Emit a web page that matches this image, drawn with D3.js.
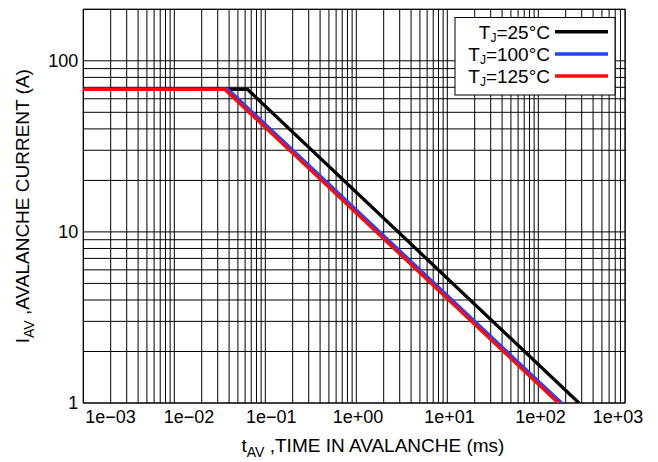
<!DOCTYPE html>
<html>
<head>
<meta charset="utf-8">
<script src="https://cdn.jsdelivr.net/npm/d3@7"></script>
<style>
  html, body { margin: 0; padding: 0; background: #fff; }
  svg { display: block; font-family: "Liberation Sans", Arial, Helvetica, sans-serif; }
</style>
</head>
<body>
<svg id="chart" width="658" height="462"></svg>
<script>
// ---------------- data ----------------
const seriesNames = ["25°C", "100°C", "125°C"];
const seriesColors = ["#000000", "#2244ff", "#ff0a0a"];

const tAV_25  = [0.001, 0.064, 280];
const iAV_25  = [68, 68, 1];
const tAV_100 = [0.001, 0.039, 180];
const iAV_100 = [68, 68, 1];
const tAV_125 = [0.001, 0.036, 166];
const iAV_125 = [68, 68, 1];

const xTickExps   = [-3, -2, -1, 0, 1, 2, 3];
const xTickLabels = ["1e\u221203", "1e\u221202", "1e\u221201", "1e+00", "1e+01", "1e+02", "1e+03"];
const yTickValues = [1, 10, 100];
const yTickLabels = ["1", "10", "100"];

// ---------------- layout ----------------
const margin = { left: 83.3, top: 9.3 };
const width = 541.8, height = 393.7;

const svg = d3.select("#chart");
const g = svg.append("g").attr("transform", `translate(${margin.left},${margin.top})`);

// grid / data scales
const x = d3.scaleLog().domain([1e-3, 1e3]).range([0, 546]);
const y = d3.scaleLog().domain([1, 200]).range([height, 0]);

// axis label scale (label placement of the original)
const xLab = d3.scaleLinear().domain(xTickExps)
  .range([26.7, 105.2, 187.4, 274.2, 365.7, 456.7, 534.3]);

// clip
svg.append("defs").append("clipPath").attr("id", "clip")
  .append("rect").attr("width", width).attr("height", height);

// grid values
const xGridVals = [];
for (let n = -3; n <= 2; n++) for (let k = 1; k <= 9; k++) {
  const v = k * Math.pow(10, n);
  if (x(v) <= width + 0.5) xGridVals.push(v);
}
const yGridVals = [];
for (let n = 0; n <= 2; n++) for (let k = 1; k <= 9; k++) {
  const v = k * Math.pow(10, n);
  if (v <= 200) yGridVals.push(v);
}

const grid = g.append("g").attr("stroke", "#000").attr("stroke-width", 1);
grid.selectAll("line.vx").data(xGridVals).enter().append("line")
  .attr("x1", d => x(d)).attr("x2", d => x(d)).attr("y1", 0).attr("y2", height);
grid.selectAll("line.hy").data(yGridVals).enter().append("line")
  .attr("y1", d => y(d)).attr("y2", d => y(d)).attr("x1", 0).attr("x2", width);

// frame
g.append("rect").attr("width", width).attr("height", height)
  .attr("fill", "none").attr("stroke", "#000").attr("stroke-width", 1);

// series
const series = [
  { t: tAV_25,  i: iAV_25 },
  { t: tAV_100, i: iAV_100 },
  { t: tAV_125, i: iAV_125 }
];
const line = d3.line().x(d => x(d[0])).y(d => y(d[1]));
const lines = g.append("g").attr("clip-path", "url(#clip)");
series.forEach((s, idx) => {
  lines.append("path")
    .datum(s.t.map((t, j) => [t, s.i[j]]))
    .attr("d", line)
    .attr("fill", "none")
    .attr("stroke", seriesColors[idx])
    .attr("stroke-width", 3.3)
    .attr("stroke-linejoin", "miter");
});

// axes
const xAxis = g.append("g").attr("transform", `translate(0,${height})`)
  .call(d3.axisBottom(xLab).tickValues(xTickExps)
    .tickFormat((d, i) => xTickLabels[i]).tickSize(0).tickPadding(7));
xAxis.select(".domain").remove();
xAxis.selectAll("text").attr("font-size", 18).attr("fill", "#000")
  .attr("font-family", "Liberation Sans, Arial, sans-serif");

const yAxis = g.append("g")
  .call(d3.axisLeft(y).tickValues(yTickValues)
    .tickFormat((d, i) => yTickLabels[i]).tickSize(0).tickPadding(5));
yAxis.select(".domain").remove();
yAxis.selectAll("text").attr("font-size", 18).attr("fill", "#000")
  .attr("font-family", "Liberation Sans, Arial, sans-serif");

// axis titles
const xt = svg.append("text").attr("x", 373).attr("y", 452)
  .attr("text-anchor", "middle").attr("font-size", 19).attr("fill", "#000");
xt.append("tspan").text("t");
xt.append("tspan").attr("font-size", 14).attr("dy", 5).text("AV");
xt.append("tspan").attr("dy", -5).text(" ,TIME IN AVALANCHE (ms)");

const yt = svg.append("text")
  .attr("transform", `translate(29,${margin.top + height / 2}) rotate(-90)`)
  .attr("text-anchor", "middle").attr("font-size", 19).attr("fill", "#000");
yt.append("tspan").text("I");
yt.append("tspan").attr("font-size", 14).attr("dy", 5).text("AV");
yt.append("tspan").attr("dy", -5).text(" ,AVALANCHE CURRENT (A)");

// legend
const lg = svg.append("g").attr("transform", "translate(455,17.5)");
lg.append("rect").attr("width", 160).attr("height", 77.5)
  .attr("fill", "#fff").attr("stroke", "#000").attr("stroke-width", 1);
seriesNames.forEach((name, idx) => {
  const cy = 14.2 + idx * 22.2;
  const tx = lg.append("text").attr("x", 95).attr("y", cy + 6.8)
    .attr("text-anchor", "end").attr("font-size", 19).attr("fill", "#000");
  tx.append("tspan").text("T");
  tx.append("tspan").attr("font-size", 12).attr("dy", 3.5).text("J");
  tx.append("tspan").attr("dy", -3.5).text("=" + name);
  lg.append("line").attr("x1", 100).attr("x2", 153).attr("y1", cy).attr("y2", cy)
    .attr("stroke", seriesColors[idx]).attr("stroke-width", 3.5);
});
</script>
</body>
</html>
